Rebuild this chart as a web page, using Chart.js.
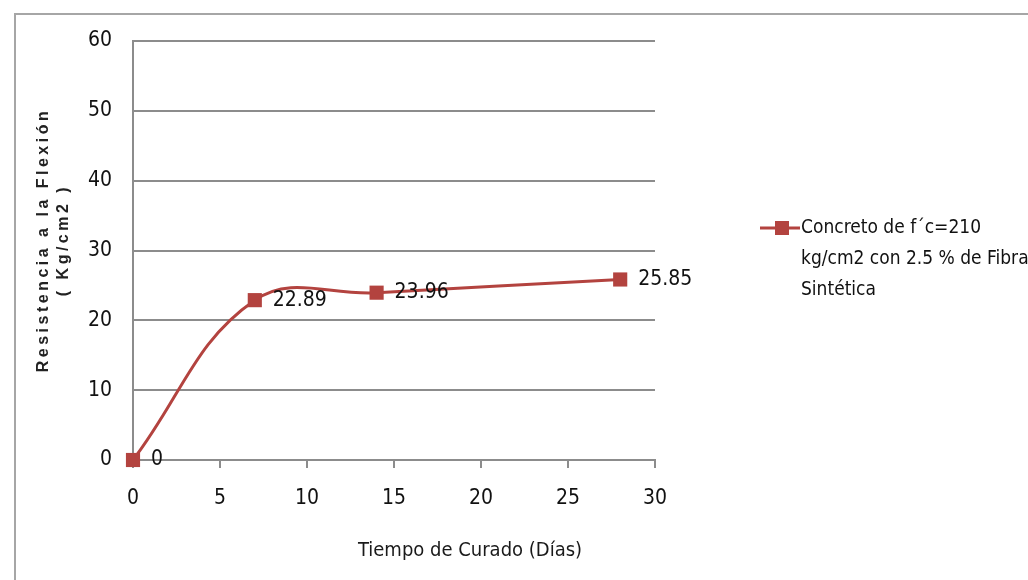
<!DOCTYPE html>
<html>
<head>
<meta charset="utf-8">
<script src="https://cdn.jsdelivr.net/npm/chart.js@4.4.0/dist/chart.umd.min.js"></script>
<style>
html,body{margin:0;padding:0;background:#fff;}
#wrap{position:relative;width:1028px;height:580px;}
</style>
</head>
<body>
<div id="wrap"><canvas id="c" width="1028" height="580"></canvas></div>
<script>
const days = [0, 7, 14, 28];
const resistance = [0, 22.89, 23.96, 25.85];
const seriesLabel = ["Concreto de f´c=210", "kg/cm2 con 2.5 % de Fibra", "Sintética"];
const yTitle = ["Resistencia a la Flexión", "( Kg/cm2 )"];
const xTitle = "Tiempo de Curado (Días)";

const NARROW = '"DejaVu Sans Condensed", "Liberation Sans Narrow", sans-serif';
const RED = '#b3433f';

const extras = {
  id: 'extras',
  beforeDraw(chart) {
    const ctx = chart.ctx;
    ctx.save();
    ctx.strokeStyle = '#a6a6a6';
    ctx.lineWidth = 2;
    ctx.strokeRect(15, 14, 1100, 700);
    ctx.restore();
  },
  afterDraw(chart) {
    const ctx = chart.ctx;
    const meta = chart.getDatasetMeta(0);
    ctx.save();
    // data labels
    ctx.fillStyle = '#111';
    ctx.font = '21px ' + NARROW;
    ctx.textAlign = 'left';
    ctx.textBaseline = 'middle';
    meta.data.forEach((pt, i) => {
      ctx.fillText(String(resistance[i]), pt.x + 18, pt.y);
    });
    // x title
    ctx.fillStyle = '#1a1a1a';
    ctx.font = '20px ' + NARROW;
    ctx.textAlign = 'center';
    ctx.fillText(xTitle, 470, 551);
    // y title
    ctx.save();
    ctx.font = 'bold 16px "Liberation Sans", Arial, sans-serif';
    ctx.letterSpacing = '3.5px';
    ctx.fillStyle = '#222';
    ctx.textAlign = 'center';
    ctx.textBaseline = 'middle';
    const cx = [44, 64];
    yTitle.forEach((t, i) => {
      ctx.save();
      ctx.translate(cx[i], 240);
      ctx.rotate(-Math.PI / 2);
      ctx.fillText(t, 0, 0);
      ctx.restore();
    });
    ctx.restore();
    // legend
    ctx.strokeStyle = RED;
    ctx.lineWidth = 3;
    ctx.beginPath();
    ctx.moveTo(760, 228);
    ctx.lineTo(800, 228);
    ctx.stroke();
    ctx.fillStyle = RED;
    ctx.fillRect(775, 221, 14, 14);
    ctx.fillStyle = '#111';
    ctx.font = '19px ' + NARROW;
    ctx.textAlign = 'left';
    ctx.textBaseline = 'middle';
    seriesLabel.forEach((t, i) => ctx.fillText(t, 801, 228 + i * 31));
    ctx.restore();
  }
};

new Chart(document.getElementById('c'), {
  type: 'line',
  data: {
    datasets: [{
      label: seriesLabel.join(' '),
      data: days.map((d, i) => ({x: d, y: resistance[i]})),
      borderColor: RED,
      backgroundColor: RED,
      borderWidth: 3,
      tension: 0.4,
      pointStyle: 'rect',
      pointRadius: 10,
      pointBorderWidth: 0,
      pointBackgroundColor: RED,
      clip: false
    }]
  },
  options: {
    responsive: false,
    animation: false,
    events: [],
    layout: {padding: {left: 0, right: 373, top: 41, bottom: 0}},
    plugins: {legend: {display: false}, tooltip: {enabled: false}},
    scales: {
      x: {
        type: 'linear', min: 0, max: 30,
        ticks: {stepSize: 5, color: '#111', font: {family: NARROW, size: 21}, padding: 18},
        grid: {display: true, drawOnChartArea: false, drawTicks: true, tickLength: 8, color: '#8c8c8c', lineWidth: 2},
        border: {display: true, color: '#8c8c8c', width: 2},
        title: {display: false},
        afterFit(s) { s.height = 120; }
      },
      y: {
        min: 0, max: 60,
        ticks: {stepSize: 10, color: '#111', font: {family: NARROW, size: 21}, padding: 21},
        grid: {color: '#8c8c8c', lineWidth: 2, drawTicks: false},
        border: {display: true, color: '#8c8c8c', width: 2},
        afterFit(s) { s.width = 133; }
      }
    }
  },
  plugins: [extras]
});
</script>
</body>
</html>
